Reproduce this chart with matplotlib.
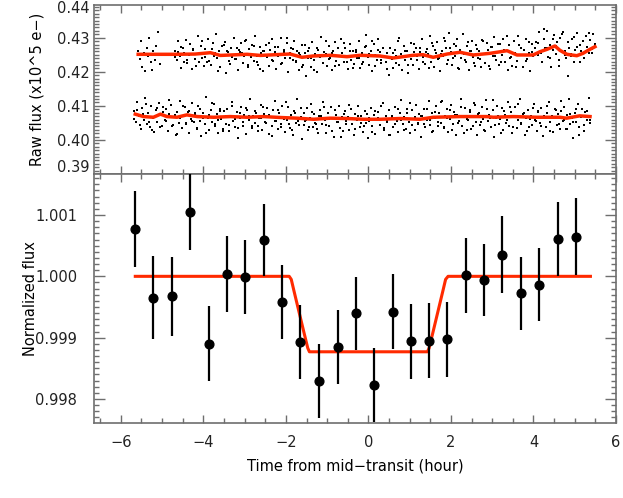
import numpy as np
import matplotlib.pyplot as plt
from matplotlib.ticker import MultipleLocator, FormatStrFormatter

# binned, normalized light curve
t_bin = [-5.65, -5.21, -4.76, -4.32, -3.87, -3.42, -2.98, -2.53, -2.09, -1.65,
         -1.19, -0.74, -0.31, 0.14, 0.59, 1.03, 1.47, 1.91, 2.36, 2.80,
         3.24, 3.69, 4.13, 4.59, 5.03]
f_bin = [1.000772, 0.999652, 0.999674, 1.001049, 0.998902, 1.000038, 0.999994, 1.000592, 0.999586, 0.998929,
         0.998293, 0.998852, 0.999397, 0.998228, 0.999424, 0.998940, 0.998950, 0.998973, 1.000016, 0.999940,
         1.000353, 0.999723, 0.999864, 1.000608, 1.000646]
e_bin = [0.00062, 0.00068, 0.00064, 0.00062, 0.00061, 0.00062, 0.00060, 0.00059, 0.00060, 0.00060,
         0.00061, 0.00060, 0.00059, 0.00061, 0.00061, 0.00061, 0.00061, 0.00061, 0.00061, 0.00059,
         0.00063, 0.00060, 0.00060, 0.00060, 0.00063]

# transit model
t_model = [-5.65, -1.92, -1.87, -1.80, -1.55, -1.47, -1.43, 1.43, 1.47, 1.55, 1.80, 1.87, 1.93, 5.38]
f_model = [1.0, 1.0, 0.99995, 0.99975, 0.99905, 0.99883, 0.99877, 0.99877, 0.99883, 0.99905, 0.99975, 0.99995, 1.0, 1.0]

# smoothed trends of the raw flux
t_trend_hi = [-5.58, -5.04, -4.68, -4.20, -3.83, -3.59, -2.94, -2.62, -1.90, -1.61, -1.34, -0.93, -0.52, -0.20,
              0.28, 0.60, 0.84, 1.08, 1.32, 1.57, 1.91, 2.22, 2.54, 2.95, 3.36, 3.60, 3.99, 4.16, 4.33,
              4.52, 4.64, 4.81, 5.05, 5.20, 5.37, 5.49]
f_trend_hi = [0.42513, 0.42513, 0.42513, 0.42520, 0.42560, 0.42480, 0.42513, 0.42480, 0.42522, 0.42425, 0.42463,
              0.42484, 0.42443, 0.42484, 0.42463, 0.42405, 0.42443, 0.42484, 0.42502, 0.42425, 0.42522, 0.42572,
              0.42493, 0.42542, 0.42619, 0.42493, 0.42493, 0.42590, 0.42660, 0.42757, 0.42630, 0.42513, 0.42472,
              0.42542, 0.42660, 0.42736]
t_trend_lo = [-5.65, -5.45, -5.21, -5.04, -4.88, -4.64, -4.40, -4.15, -3.75, -3.35, -2.94, -2.54, -2.14, -1.73,
              -1.33, -0.93, -0.52, -0.12, 0.28, 0.77, 1.25, 1.57, 2.22, 2.87, 3.03, 3.51, 4.08, 4.64, 4.80,
              5.12, 5.37]
f_trend_lo = [0.40757, 0.40686, 0.40666, 0.40757, 0.40686, 0.40666, 0.40736, 0.40686, 0.40666, 0.40686, 0.40666,
              0.40686, 0.40659, 0.40639, 0.40607, 0.40639, 0.40629, 0.40607, 0.40607, 0.40629, 0.40607, 0.40666,
              0.40686, 0.40686, 0.40666, 0.40686, 0.40666, 0.40666, 0.40639, 0.40707, 0.40686]

# raw flux points, units of 1e-5 (x10^5 e-)
raw_hi_a = [42620, 42380, 42890, 42150, 42550, 42010, 42700, 42460, 42980, 42280, 42040, 42610, 42350, 42770,
            43180, 42520, 42230]
raw_hi_b = [
    42610, 42340, 42890, 42470, 42120, 42700, 42560, 42930, 42250, 42480, 42820, 42090, 42640, 42380, 42530, 43050, 42290, 42750, 42410, 42180,
    42680, 42300, 42950, 42560, 42210, 42840, 42470, 43120, 42390, 42620, 42150, 42760, 42500, 42870, 41950, 42580, 42330, 42710, 42440, 42990,
    42380, 42710, 42060, 42590, 42840, 42270, 42450, 42930, 42150, 42660, 42520, 42800, 42330, 43060, 42470, 42200, 42740, 42560, 42010, 42610,
    42790, 42420, 42180, 42650, 42960, 42310, 42570, 42080, 42720, 42480, 43000, 42260, 42630, 42390, 42850, 41990, 42540, 42700, 42350, 42910,
    42300, 42620, 42050, 42480, 42790, 42200, 42560, 41870, 42410, 42700, 42150, 42880, 42350, 42520, 42000, 42640, 42430, 43010, 42270, 42580,
    42510, 42180, 42760, 42390, 42050, 42620, 42870, 42330, 42470, 42190, 42950, 42560, 42280, 42700, 42420, 42090, 42810, 42360, 42600, 42230,
    42650, 42390, 42890, 42120, 42540, 42300, 42730, 43080, 42440, 42210, 42600, 42010, 42820, 42480, 42350, 42960, 42570, 42250, 42690, 42430,
    42280, 42560, 41920, 42700, 42370, 42110, 42630, 42450, 42890, 42210, 42520, 42050, 42760, 42340, 42600, 41970, 42480, 42830, 42190, 42570,
    42710, 42360, 42090, 42580, 42950, 42420, 42230, 42660, 42510, 43040, 42300, 42770, 42140, 42550, 42860, 42390, 42020, 42620, 42470, 42900,
    42690, 42350, 43150, 42580, 42200, 42820, 42460, 42970, 42110, 42640, 42390, 43100, 42530, 42280, 42760, 42050, 42610, 42910, 42420, 42180,
    42780, 42400, 42600, 42150, 42930, 42510, 42270, 42850, 42640, 42090, 42720, 42460, 43020, 42340, 42590, 42200, 42810, 42480, 42960, 42300,
    42620, 42050, 42790, 42440, 42180, 42900, 42560, 42310, 43050, 42480, 42700, 42130, 42640, 42950, 42370, 42560, 42010, 42820, 42450, 42690,
    42870, 42500, 43180, 42620, 42300, 42950, 42710, 43200, 42430, 42790, 42150, 42640, 43080, 42520, 42860, 42360, 42990, 42600, 43170, 42480,
    42410, 41880, 42700, 42530, 42960, 42300, 42650, 43150, 42480, 42780, 42600, 42890, 42390, 43060, 42720, 42550, 42940, 42680, 43100, 42810]
raw_hi_c = [
    42440, 42590, 42720, 42280, 42350, 42810, 42660, 42170, 42520, 42900, 42430, 42310, 42680, 42560, 42030, 42470, 42790, 42620, 42240, 42500,
    42370, 42640, 42560, 42910, 42190, 42430, 42760, 42290, 42080, 42610, 42500, 42850, 42340, 42720, 42460, 42230, 42580, 42990, 42400, 42670,
    42330, 42540, 42150, 42800, 42620, 42400, 42060, 42710, 42480, 42260, 42910, 42370, 42550, 42180, 42690, 42450, 42830, 42290, 42600, 42120,
    42590, 42410, 42230, 42750, 42520, 42890, 42160, 42640, 42350, 42470, 42080, 42700, 42550, 42270, 42990, 42420, 42610, 42190, 42380, 42820,
    42460, 42710, 42290, 42580, 42120, 42850, 42630, 42380, 42510, 42980, 42220, 42690, 42410, 42770, 42070, 42560, 42340, 42880, 42600, 42250,
    42660, 42380, 42910, 42520, 42170, 42740, 42450, 42820, 42280, 42630, 43060, 42400, 42550, 42130, 42790, 42490, 42320, 42870, 42580, 42710,
    42840, 42550, 43250, 42690, 42400, 42960, 42770, 42180, 43100, 42620, 42880, 42470, 43020, 42730, 42290, 42900, 42610, 43130, 42560, 42800]
raw_lo = [
    40850, 40520, 41120, 40690, 40310, 40940, 40600, 41230, 40460, 40780, 40380, 41010, 40650, 40230, 40890, 40540, 41080, 40720, 40410, 40960,
    40580, 40900, 40270, 40750, 41040, 40430, 40680, 40150, 40820, 40510, 41150, 40360, 40700, 40980, 40470, 40830, 40200, 40620, 41090, 40540,
    40730, 40350, 40990, 40560, 40120, 40800, 40460, 41260, 40640, 40290, 40870, 40530, 41050, 40400, 40760, 40210, 40920, 40610, 40330, 40840,
    40480, 40910, 40260, 40700, 41100, 40550, 40380, 40830, 40060, 40650, 40970, 40420, 40740, 40180, 40880, 40590, 41200, 40350, 40710, 40500,
    40800, 40420, 40640, 41030, 40290, 40760, 40530, 40950, 40170, 40680, 40400, 40870, 41150, 40560, 40310, 40790, 40470, 40990, 40620, 40240,
    40590, 40970, 40350, 40720, 40150, 40840, 40500, 41200, 40430, 40670, 40020, 40780, 40560, 40930, 40280, 40640, 41060, 40390, 40750, 40470,
    40320, 40700, 40890, 40460, 41120, 40580, 40210, 40790, 40410, 40960, 40630, 40090, 40740, 40520, 41000, 40360, 40680, 40250, 40850, 40550,
    40660, 40300, 40920, 40480, 40140, 40770, 40590, 41010, 40370, 40700, 40230, 40860, 40510, 40050, 40640, 40940, 40420, 40730, 40180, 40580,
    40820, 40450, 40610, 41080, 40290, 40700, 40520, 40880, 40160, 40630, 40390, 40960, 40560, 40240, 40790, 41170, 40470, 40680, 40330, 40910,
    40540, 40190, 40870, 40620, 40300, 41020, 40480, 40750, 40100, 40690, 40910, 40370, 40580, 41150, 40440, 40800, 40260, 40650, 40990, 40410,
    40780, 40500, 41130, 40350, 40690, 40900, 40220, 40620, 41040, 40460, 40810, 40150, 40730, 40570, 41210, 40400, 40660, 40950, 40280, 40590,
    40870, 40330, 40700, 41080, 40520, 40160, 40790, 40440, 40960, 40610, 40250, 41180, 40560, 40720, 40380, 40890, 40100, 40650, 41000, 40480,
    40620, 40950, 40300, 40740, 40510, 41100, 40420, 40830, 40200, 40680, 40960, 40360, 40590, 41210, 40470, 40770, 40140, 40640, 40880, 40390,
    40710, 40430, 41050, 40580, 40270, 40850, 40490, 40940, 40130, 40660, 40370, 40800, 41120, 40530, 40690, 40240, 40900, 40450, 40760, 40320,
    40850, 40560, 40980, 40330, 40720, 41190, 40460, 40640, 40070, 40790, 40520, 41060, 40380, 40700, 40910, 40250, 40830, 40580, 41220, 40490]
raw_lo_c = [
    40620, 40880, 40450, 40770, 41050, 40530, 40290, 40690, 40940, 40380, 40810, 40570, 41170, 40420, 40720, 40180, 40630, 40990, 40500, 40860,
    40560, 40790, 40330, 40910, 40640, 40200, 40720, 41080, 40470, 40590, 40850, 40260, 40690, 40430, 41010, 40610, 40350, 40780, 40520, 40940,
    40710, 40420, 40860, 40250, 40630, 40980, 40500, 40740, 40110, 40570, 40890, 40390, 40660, 41120, 40480, 40300, 40800, 40550, 40930, 40440,
    40580, 40370, 40830, 40510, 40190, 40700, 40960, 40430, 40610, 40270, 40880, 40540, 40080, 40750, 40460, 41030, 40640, 40320, 40690, 40490,
    40400, 40760, 40550, 40220, 40850, 40630, 40990, 40350, 40570, 40140, 40700, 40470, 40910, 40600, 40280, 40780, 41080, 40450, 40670, 40510,
    40690, 40460, 40920, 40580, 40240, 40810, 40530, 41100, 40380, 40650, 40870, 40300, 40740, 40500, 40960, 40190, 40620, 40830, 40410, 41040,
    40770, 40520, 40300, 40900, 40640, 41160, 40450, 40700, 40200, 40850, 40580, 40960, 40370, 40680, 41050, 40490, 40800, 40260, 40610, 40930,
    40550, 40820, 40410, 40700, 40990, 40270, 40630, 40880, 40480, 41140, 40590, 40330, 40760, 40520, 40920, 40150, 40680, 40450, 40850, 40600]

# observation windows (regular cadence)
span_hi_a = (-5.58, -5.04)
span_hi_b = (-4.68, 5.49)
span_lo = (-5.67, 5.37)

t_hi_a = np.linspace(span_hi_a[0], span_hi_a[1], len(raw_hi_a))
t_hi_b = np.linspace(span_hi_b[0], span_hi_b[1], len(raw_hi_b))
t_hi_c = np.linspace(span_hi_b[0], span_hi_b[1], len(raw_hi_c))
t_lo = np.linspace(span_lo[0], span_lo[1], len(raw_lo))
t_lo_c = np.linspace(span_lo[0], span_lo[1], len(raw_lo_c))

red = '#ff2a00'
axcol = '#6e6e6e'
txtcol = '#222222'
plt.rcParams['font.family'] = 'DejaVu Sans'
plt.rcParams['font.size'] = 10.5
plt.rcParams['text.color'] = txtcol

fig = plt.figure(figsize=(6.23, 4.98), dpi=100)
ax1 = fig.add_axes([0.1509, 0.6512, 0.8379, 0.3388])
ax2 = fig.add_axes([0.1509, 0.1512, 0.8379, 0.5000])

for tt, ff in [(t_hi_a, raw_hi_a), (t_hi_b, raw_hi_b), (t_hi_c, raw_hi_c), (t_lo, raw_lo), (t_lo_c, raw_lo_c)]:
    ax1.scatter(tt, np.array(ff) * 1e-5, s=2.2, marker='s', c='black', linewidths=0)
ax1.plot(t_trend_hi, f_trend_hi, color=red, lw=2.5)
ax1.plot(t_trend_lo, f_trend_lo, color=red, lw=2.5)
ax1.set_ylim(0.3901, 0.4396)
ax1.yaxis.set_major_locator(MultipleLocator(0.01))
ax1.yaxis.set_minor_locator(MultipleLocator(0.001))
ax1.yaxis.set_major_formatter(FormatStrFormatter('%.2f'))
# IDL puts the end labels just inside the box
ax1.text(-0.0077, 0.979, '0.44', transform=ax1.transAxes, ha='right', va='center', color=txtcol)
ax1.text(-0.0077, 0.034, '0.39', transform=ax1.transAxes, ha='right', va='center', color=txtcol)
ax1.set_ylabel('Raw flux (x10^5 e\u2212)')
ax1.yaxis.set_label_coords(-0.094, 0.5)
ax1.tick_params(axis='x', labelbottom=False)
ax1.tick_params(axis='y', pad=3)

ax2.plot(t_model, f_model, color=red, lw=2.2, zorder=2)
ax2.errorbar(t_bin, f_bin, yerr=e_bin, fmt='o', color='black', ms=6.3, elinewidth=1.6, capsize=0, zorder=3)
ax2.set_ylim(0.997614, 1.001673)
ax2.yaxis.set_major_locator(MultipleLocator(0.001))
ax2.yaxis.set_minor_locator(MultipleLocator(0.0001))
ax2.yaxis.set_major_formatter(FormatStrFormatter('%.3f'))
ax2.set_ylabel('Normalized flux')
ax2.yaxis.set_label_coords(-0.108, 0.5)
ax2.set_xlabel('Time from mid\u2212transit (hour)', labelpad=6)
ax2.tick_params(axis='y', pad=12)
ax2.tick_params(axis='x', pad=9)

for ax in (ax1, ax2):
    ax.set_xlim(-6.65, 6.0)
    ax.xaxis.set_major_locator(MultipleLocator(2))
    ax.xaxis.set_minor_locator(MultipleLocator(0.5))
    ax.tick_params(which='both', direction='in', top=True, right=True, color=axcol, labelcolor=txtcol, width=1)
    ax.tick_params(axis='x', which='major', length=6)
    ax.tick_params(axis='x', which='minor', length=3.5)
    ax.tick_params(axis='y', which='major', length=8)
    ax.tick_params(axis='y', which='minor', length=3.5)
    for s in ax.spines.values():
        s.set_color(axcol)
        s.set_linewidth(1.2)

plt.savefig('out.png', dpi=100)
plt.close()
